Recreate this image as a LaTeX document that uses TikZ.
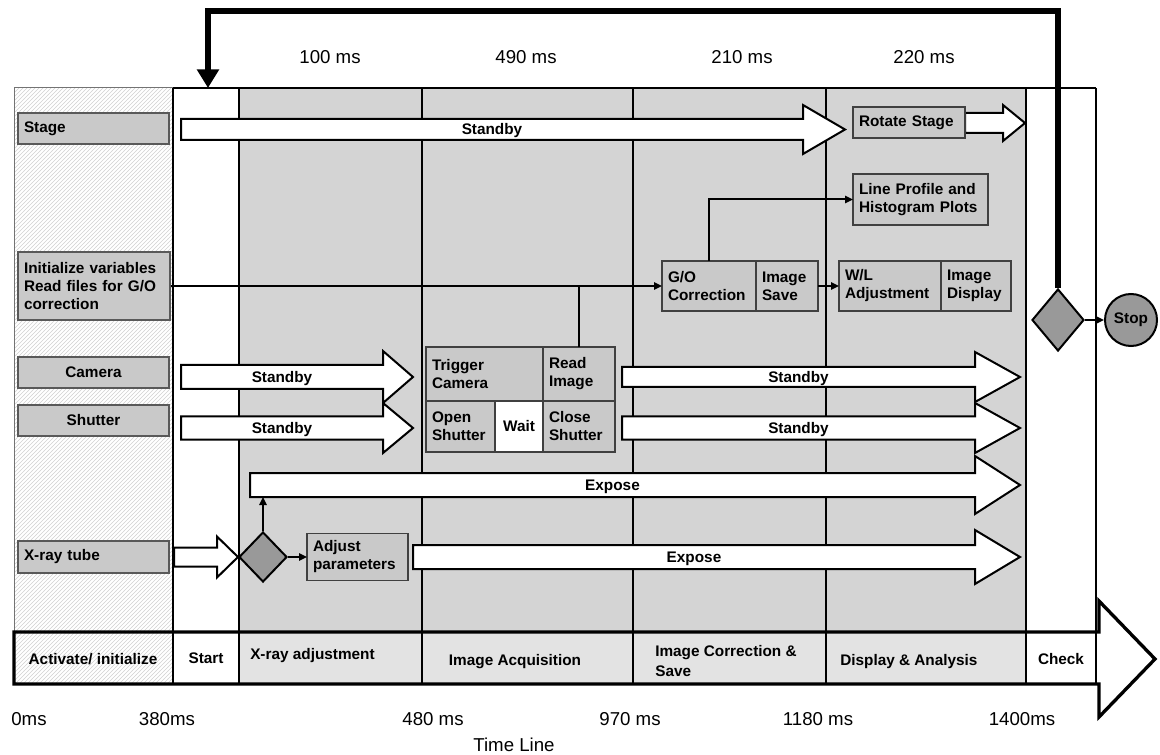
\documentclass[tikz,border=0pt]{standalone}
\usepackage{fontspec}
\setmainfont{Liberation Sans}
\usetikzlibrary{arrows.meta, shapes.geometric, patterns, positioning}

\definecolor{panelgray}{gray}{0.83}
\definecolor{cellgray}{gray}{0.89}
\definecolor{boxgray}{gray}{0.79}
\definecolor{diagray}{gray}{0.6}

\newcommand{\boxfont}{\fontsize{11.5}{13.5}\selectfont\bfseries}
\newcommand{\timefont}{\fontsize{14}{16}\selectfont}

% block arrow: name, tail x, tip x, centre y, shaft half, head half, head length, label
\newcommand{\fatarrow}[8]{%
  \draw[fat arrow] (#2,#4-#5) -- (#3-#7,#4-#5) -- (#3-#7,#4-#6) -- (#3,#4)
    -- (#3-#7,#4+#6) -- (#3-#7,#4+#5) -- (#2,#4+#5) -- cycle;
  \node[arrow text] (#1) at ({(#2+#3-#7)/2},#4+1.5) {#8};
  \coordinate (#1-bot) at (#2,#4+#5);
}

\begin{document}
\begin{tikzpicture}[
    x=0.75pt, y=-0.75pt,
    fat arrow/.style={draw=black, fill=white, line width=1.5pt, line join=miter},
    arrow text/.style={font=\boxfont, inner sep=0pt},
    rowbox/.style={draw=black!65, fill=boxgray, line width=1pt, font=\boxfont, inner xsep=4.5pt,
        inner ysep=0pt, minimum height=23.25pt, text width=104.25pt, align=left},
    procbox/.style={draw=black!75, fill=boxgray, line width=1pt, font=\boxfont, inner xsep=4.5pt,
        inner ysep=0pt, outer sep=0pt, align=left},
    cell text/.style={font=\boxfont, inner sep=0pt},
    time text/.style={font=\timefont, inner sep=0pt},
    link/.style={line width=1.5pt, -{Triangle[length=6pt, width=5.5pt]}},
    loopback/.style={line width=5pt, -{Triangle[length=14pt, width=16pt]}},
    decision/.style={diamond, draw=black, fill=diagray, line width=1.5pt, inner sep=0pt}
]

\useasboundingbox (0,0) rectangle (1160,755);

% --- backgrounds ---
\fill[white] (14,88) rectangle (173,684);
\fill[pattern=north east lines, pattern color=black!18] (14,88) rectangle (173,684);
\fill[panelgray] (239,88) rectangle (1026,632);
\fill[cellgray] (239,632) rectangle (1026,684);
\draw[black!55, line width=0.75pt] (14,684) -- (14,88) -- (173,88);

% --- columns ---
\draw[line width=1.5pt] (173,88) -- (1096,88);
\foreach \x in {173, 239, 422, 633, 826, 1026, 1096}
    \draw[line width=1.5pt] (\x,88) -- (\x,684);

% --- time line arrow ---
\draw[line width=2.5pt, line join=miter] (14,632) -- (1099,632) -- (1099,601) -- (1155,659)
    -- (1099,717) -- (1099,684) -- (14,684) -- cycle;

% --- block arrows ---
\fatarrow{stagesb}{181}{845}{129.5}{10.5}{24.5}{42}{Standby}
\fatarrow{rotarr}{965}{1025}{123}{10}{18}{22}{}
\fatarrow{camsbA}{181}{413}{377}{12}{26}{30}{Standby}
\fatarrow{shutsbA}{181}{413}{428}{11.5}{25}{30}{Standby}
\fatarrow{camsbB}{622}{1020}{377}{10}{25}{45}{Standby}
\fatarrow{shutsbB}{622}{1020}{428}{11.5}{25}{45}{Standby}
\fatarrow{exposeA}{250}{1020}{485}{12}{29}{45}{Expose}
\fatarrow{exposeB}{413}{1020}{557}{12}{27}{45}{Expose}
\fatarrow{xtubearr}{174}{238}{557}{9.5}{20.5}{21}{}

% --- row labels ---
\node[rowbox] (stage) at (93.5,128.5) {Stage};
\node[rowbox, minimum height=51pt, text width=105pt] (init) at (94,286)
    {Initialize variables\\Read files for G/O\\correction};
\node[rowbox, align=center] (camera) at (93.5,372.5) {Camera};
\node[rowbox, align=center] (shutter) at (93.5,420.5) {Shutter};
\node[rowbox, minimum height=24pt] (xtube) at (93.5,557) {X-ray tube};

% --- process boxes ---
\node[procbox, text width=78.75pt, minimum height=40.5pt] (trig) at (484.5,374) {Trigger\\Camera};
\node[procbox, text width=45pt, minimum height=40.5pt, right=0pt of trig] (readimg) {Read\\Image};
\node[procbox, text width=42.75pt, minimum height=38.25pt, below right=0pt of trig.south west]
    (openshut) {Open\\Shutter};
\node[procbox, fill=white, text width=27pt, align=center, minimum height=38.25pt, right=0pt of openshut]
    (waitbox) {Wait};
\node[procbox, text width=45pt, minimum height=38.25pt, right=0pt of waitbox] (closeshut) {Close\\Shutter};

\node[procbox, text width=61.5pt, minimum height=37.5pt] (gocorr) at (709,286) {G/O\\Correction};
\node[procbox, text width=37.5pt, minimum height=37.5pt, right=0pt of gocorr] (imgsave) {Image\\Save};
\node[procbox, text width=67.5pt, minimum height=37.5pt, right=15.75pt of imgsave] (wladj) {W/L\\Adjustment};
\node[procbox, text width=43.5pt, minimum height=37.5pt, right=0pt of wladj] (imgdisp) {Image\\Display};
\node[procbox, text width=92.25pt, minimum height=38.25pt] (lineprof) at (920.5,199.5)
    {Line Profile and\\Histogram Plots};
\node[procbox, text width=75pt, minimum height=23.25pt] (rotstage) at (909,122.5) {Rotate Stage};
\node[procbox, text width=66.75pt, minimum height=35.25pt] (adjpar) at (357.5,557) {Adjust\\parameters};

% --- decisions ---
\node[decision, minimum width=36pt, minimum height=37.5pt] (xdia) at (263,557) {};
\node[decision, minimum width=39pt, minimum height=46.5pt] (chk) at (1058,320) {};
\node[circle, draw, fill=diagray, line width=1.5pt, minimum size=39pt, inner sep=0pt, font=\boxfont]
    (stop) at (1131,320) {Stop};

% --- connectors ---
\draw[link] (init.east) -- (gocorr.west);
\draw[line width=1.5pt] (readimg.north) -- (readimg.north |- init.east);
\draw[link] (gocorr.north) |- (lineprof.west);
\draw[link] (imgsave.east) -- (wladj.west);
\draw[link] (xdia.east) -- (adjpar.west);
\draw[link] (xdia.north) -- (xdia.north |- exposeA-bot);
\draw[link] (chk.east) -- (stop.west);
\coordinate (startin) at (208,88);
\draw[loopback] (chk.north) -- ++(0,-277) -| (startin);

% --- time line cells ---
\node[cell text] (tlact) at (93,659) {Activate/ initialize};
\node[cell text] (tlstart) at (206,658) {Start};
\node[cell text, anchor=west] (tlxray) at (250,656) {X-ray adjustment};
\node[cell text] (tlacq) at (515,662) {Image Acquisition};
\node[cell text, anchor=west, align=left, font=\fontsize{11.5}{15.5}\selectfont\bfseries] (tlcorr)
    at (655,661) {Image Correction \&\\Save};
\node[cell text, anchor=west] (tldisp) at (840,662) {Display \& Analysis};
\node[cell text] (tlcheck) at (1061,659) {Check};

% --- times ---
\foreach \x/\txt in {330/100 ms, 526/490 ms, 742/210 ms, 924/220 ms}
    \node[time text] (span\x) at (\x,57) {\txt};
\foreach \x/\txt in {29/0ms, 167/380ms, 433/480 ms, 630/970 ms, 818/1180 ms, 1022/1400ms}
    \node[time text] (mark\x) at (\x,719) {\txt};
\node[time text] (timeline) at (514,745) {Time Line};

\end{tikzpicture}
\end{document}
